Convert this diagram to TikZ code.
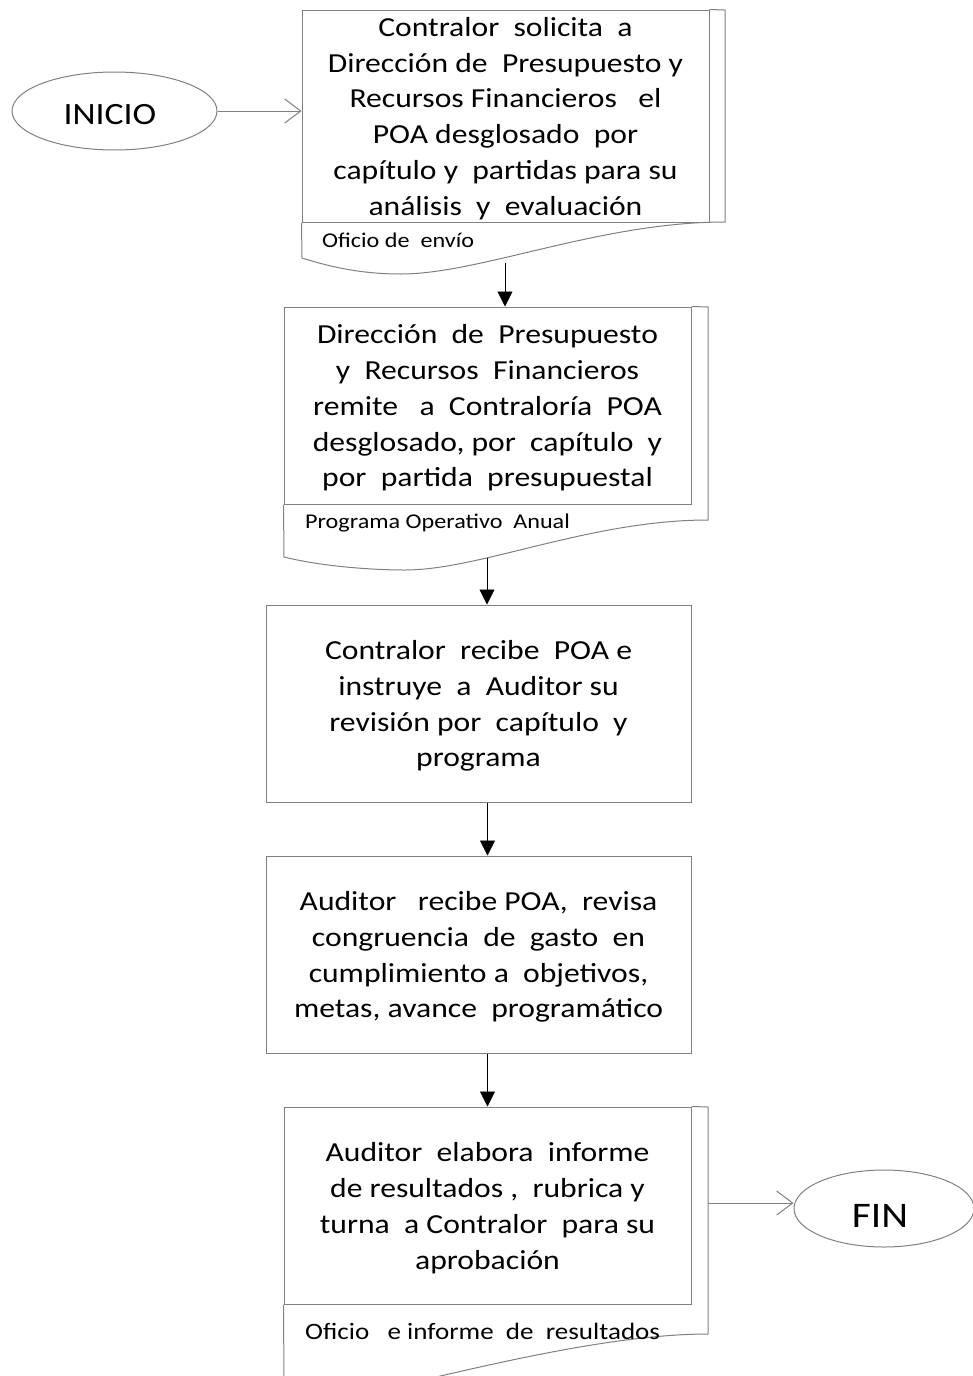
\documentclass[tikz,border=0pt]{standalone}
\usepackage{fontspec}
\setmainfont[FakeStretch=1.15]{Carlito}
\usetikzlibrary{shapes.geometric,arrows.meta}
\definecolor{linegray}{gray}{0.5}
\newcommand{\toppad}{\rule{0pt}{24pt}}

\begin{document}
\begin{tikzpicture}[
  x=1pt, y=-1pt,
  box/.style={draw=linegray, line width=1pt, rectangle, align=center, inner sep=0pt,
    font=\fontsize{27.5}{35.8}\selectfont},
  frame/.style={draw=linegray, line width=1pt},
  terminal/.style={draw=linegray, line width=1pt, ellipse, inner sep=0pt},
  note/.style={anchor=west, inner sep=0pt, font=\fontsize{20.5}{24}\selectfont},
  flow/.style={-{Triangle[length=15pt,width=15pt]}, black, line width=0.8pt},
  side/.style={-{Straight Barb[length=16pt,width=24pt]}, linegray, line width=1pt}
]
\useasboundingbox (0,0) rectangle (973,1376);

% start and end
\node[terminal, minimum width=205, minimum height=78] (inicio) at (114.5,111) {};
\node (inicio text) at (110,115) {\fontsize{31}{40}\selectfont INICIO};
\node[terminal, minimum width=180, minimum height=77] (fin) at (884,1208.5) {};
\node (fin text) at (880,1216) {\fontsize{36}{40}\selectfont FIN};

% steps
\node[box, minimum width=407, minimum height=212] (solicita) at (505.5,116)
  {\toppad Contralor~ solicita~ a\\Dirección de~ Presupuesto y\\Recursos Financieros~~ el\\POA desglosado~ por\\capítulo y~ partidas para su\\análisis~ y~ evaluación};
\node[box, minimum width=407, minimum height=197] (remite) at (487.5,405.5)
  {\toppad Dirección~ de~ Presupuesto\\y~ Recursos~ Financieros\\remite~~ a~ Contraloría~ POA\\desglosado, por~ capítulo~ y\\por~ partida~ presupuestal};
\node[box, minimum width=425, minimum height=197] (recibe) at (478.5,703.5)
  {\toppad Contralor~ recibe~ POA e\\instruye~ a~ Auditor su\\revisión por~ capítulo~ y\\programa};
\node[box, minimum width=425, minimum height=197] (revisa) at (478.5,954.5)
  {\toppad Auditor~~ recibe POA,~ revisa\\congruencia~ de~ gasto~ en\\cumplimiento a~ objetivos,\\metas, avance~ programático};
\node[box, minimum width=407, minimum height=197] (informe) at (487.5,1205.5)
  {\toppad Auditor~ elabora~ informe\\de resultados ,~ rubrica y\\turna~ a Contralor~ para su\\aprobación};

% document outlines
\draw[frame] (solicita.north east) -- (725,10) -- (725,222)
  .. controls (600,222) and (480,274) .. (401,274)
  .. controls (370,274) and (340,270) .. (302,258) -- (solicita.south west);
\draw[frame] (remite.north east) -- (708,307) -- (708,520)
  .. controls (590,520) and (480,570) .. (405,570)
  .. controls (370,570) and (320,566) .. (284,557) -- (remite.south west);
\draw[frame] (informe.north east) -- (708,1107) -- (708,1334)
  .. controls (600,1334) and (450,1375) .. (370,1392)
  .. controls (330,1392) and (300,1388) .. (284,1384) -- (informe.south west);

% document captions
\node[note, font=\fontsize{21}{24}\selectfont] (envio) at (322,240) {Oficio de~ envío};
\node[note, font=\fontsize{21}{24}\selectfont] (poa) at (305,523) {Programa Operativo~ Anual};
\node[note, font=\fontsize{23.5}{26}\selectfont] (resultados) at (305,1331) {Oficio~~ e informe~ de~ resultados};

% points on the wavy edges
\coordinate (w1) at (505,263);
\coordinate (w2) at (487,558);

% connectors
\draw[side] (inicio.east) -- (solicita.west |- inicio.east);
\draw[flow] (w1) -- (w1 |- remite.north);
\draw[flow] (w2) -- (w2 |- recibe.north);
\draw[flow] (recibe.south -| informe.north) -- (revisa.north -| informe.north);
\draw[flow] (revisa.south -| informe.north) -- (informe.north);
\coordinate (out) at (708,1203);
\draw[side] (out) -- (fin.west |- out);
\end{tikzpicture}
\end{document}
